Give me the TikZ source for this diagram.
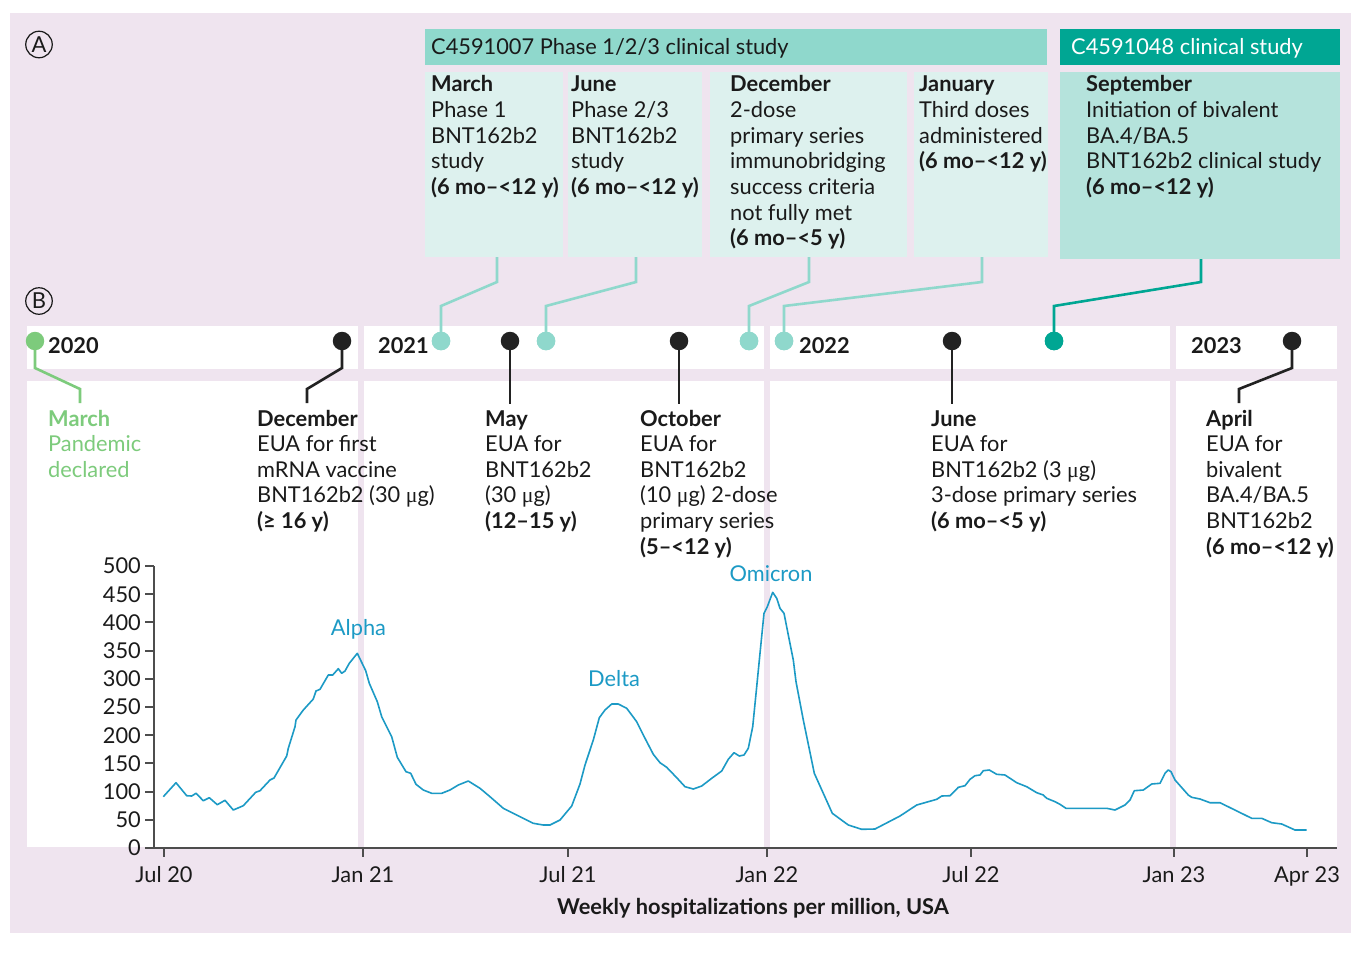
\documentclass[tikz,border=0pt]{standalone}
\usepackage{fontspec}
\setmainfont{Lato}
\newfontfamily\mufont{Liberation Serif}
\definecolor{bg}{HTML}{EFE4EF}
\definecolor{hdrA}{HTML}{8FD8CC}
\definecolor{boxA}{HTML}{DDF1EE}
\definecolor{hdrB}{HTML}{00A693}
\definecolor{boxB}{HTML}{B5E3DC}
\definecolor{ltteal}{HTML}{8FD8CC}
\definecolor{dkteal}{HTML}{00A693}
\definecolor{grn}{HTML}{7DCB7C}
\definecolor{dark}{HTML}{222222}
\definecolor{ink}{HTML}{1A1A1A}
\definecolor{crv}{HTML}{1C9AC5}
\definecolor{axc}{HTML}{4D4D4D}
\newcommand{\mug}{{\mufont μ}g}
\newcommand{\mylines}[1]{\begin{tabular}[t]{@{}l@{}}#1\end{tabular}}
\begin{document}
\begin{tikzpicture}[x=1pt,y=-1pt,
  tx/.style={font=\fontsize{21.8}{25.6}\selectfont, anchor=base west, inner sep=0pt, text=ink},
  boxnode/.style={rectangle, anchor=north west, inner sep=0pt, draw=none},
  tdot/.style={circle, inner sep=0pt, minimum size=18.5pt},
  conn/.style={line width=2.6pt, line join=miter},
  axisline/.style={draw=axc, line width=2pt},
  lab/.style={font=\fontsize{21.8}{25}\selectfont, inner sep=0pt, text=ink},
  wave/.style={text=crv, font=\fontsize{21.8}{25}\selectfont, anchor=base, inner sep=0pt},
  circlab/.style={circle, draw=ink, line width=1.2pt, minimum size=26.5pt, inner sep=0pt, font=\fontsize{22}{22}\selectfont, text=ink}
]
\useasboundingbox (0,0) rectangle (1351,958);
% background
\fill[bg] (10,13) rectangle (1351,933);
% timeline bars
\fill[white] (27,326) rectangle (358,369);
\fill[white] (364,326) rectangle (764,369);
\fill[white] (770,326) rectangle (1170,369);
\fill[white] (1176,326) rectangle (1337,369);
\fill[white] (27,381) rectangle (358,847);
\fill[white] (364,381) rectangle (764,847);
\fill[white] (770,381) rectangle (1170,847);
\fill[white] (1176,381) rectangle (1337,847);

% circled labels
\node[circlab] (lA) at (39,44.5) {A};
\node[circlab] (lB) at (39,301) {B};

% Panel A headers
\node[boxnode, fill=hdrA, minimum width=622pt, minimum height=36pt] (hA) at (425,29) {};
\node[boxnode, fill=hdrB, minimum width=280pt, minimum height=36pt] (hB) at (1060,29) {};
\node[tx] (hAt) at (431,55) {C4591007 Phase 1/2/3 clinical study};
\node[tx, text=white] (hBt) at (1071,55) {C4591048 clinical study};

% Panel A boxes
\node[boxnode, fill=boxA, minimum width=138pt, minimum height=185pt] (bMar) at (425,72) {};
\node[boxnode, fill=boxA, minimum width=134pt, minimum height=185pt] (bJun) at (568,72) {};
\node[boxnode, fill=boxA, minimum width=197pt, minimum height=185pt] (bDec) at (710,72) {};
\node[boxnode, fill=boxA, minimum width=134pt, minimum height=185pt] (bJan) at (914,72) {};
\node[boxnode, fill=boxB, minimum width=280pt, minimum height=187pt] (bSep) at (1060,72) {};

\node[tx] (tMar) at (431,92) {\mylines{\textbf{March}\\Phase 1\\BNT162b2\\study\\\textbf{(6 mo–<12 y)}}};
\node[tx] (tJun) at (571,92) {\mylines{\textbf{June}\\Phase 2/3\\BNT162b2\\study\\\textbf{(6 mo–<12 y)}}};
\node[tx] (tDec) at (730,92) {\mylines{\textbf{December}\\2-dose\\primary series\\immunobridging\\success criteria\\not fully met\\\textbf{(6 mo–<5 y)}}};
\node[tx] (tJan) at (919,92) {\mylines{\textbf{January}\\Third doses\\administered\\\textbf{(6 mo–<12 y)}}};
\node[tx] (tSep) at (1086,92) {\mylines{\textbf{September}\\Initiation of bivalent\\BA.4/BA.5\\BNT162b2 clinical study\\\textbf{(6 mo–<12 y)}}};

% connectors from panel A
\coordinate (cMar) at (497,257);
\coordinate (cJun) at (636,257);
\coordinate (cDec) at (809,257);
\coordinate (cJan) at (982,257);
\coordinate (cSep) at (1201,259);
\node[tdot, fill=ltteal] (dMar) at (441,341) {};
\node[tdot, fill=ltteal] (dJun) at (546,341) {};
\node[tdot, fill=ltteal] (dDec) at (749,341) {};
\node[tdot, fill=ltteal] (dJan) at (784,341) {};
\node[tdot, fill=dkteal] (dSep) at (1054,341) {};
\draw[conn, ltteal] (cMar) -- (497,282) -- ([yshift=35pt]dMar.center) -- (dMar.center);
\draw[conn, ltteal] (cJun) -- (636,282) -- ([yshift=35pt]dJun.center) -- (dJun.center);
\draw[conn, ltteal] (cDec) -- (809,282) -- ([yshift=35pt]dDec.center) -- (dDec.center);
\draw[conn, ltteal] (cJan) -- (982,282) -- ([yshift=35pt]dJan.center) -- (dJan.center);
\draw[conn, dkteal] (cSep) -- (1201,282) -- ([yshift=35pt]dSep.center) -- (dSep.center);
\node[tdot, fill=ltteal] at (dMar) {};
\node[tdot, fill=ltteal] at (dJun) {};
\node[tdot, fill=ltteal] at (dDec) {};
\node[tdot, fill=ltteal] at (dJan) {};
\node[tdot, fill=dkteal] at (dSep) {};

% year labels
\node[tx, font=\fontsize{21.8}{25.6}\selectfont\bfseries] (y20) at (48,353.5) {2020};
\node[tx, font=\fontsize{21.8}{25.6}\selectfont\bfseries] (y21) at (378,353.5) {2021};
\node[tx, font=\fontsize{21.8}{25.6}\selectfont\bfseries] (y22) at (799,353.5) {2022};
\node[tx, font=\fontsize{21.8}{25.6}\selectfont\bfseries] (y23) at (1191,353.5) {2023};

% panel B events
\coordinate (ePan) at (80,403);
\coordinate (eDec) at (307,403);
\coordinate (eMay) at (510,404);
\coordinate (eOct) at (679,404);
\coordinate (eJun) at (952,404);
\coordinate (eApr) at (1239,403);
\draw[conn, grn] (35,341) -- (35,368) -- (80,389) -- (ePan);
\draw[conn, dark] (342,341) -- (342,368) -- (307,389) -- (eDec);
\draw[conn, dark] (510,341) -- (eMay);
\draw[conn, dark] (679,341) -- (eOct);
\draw[conn, dark] (952,341) -- (eJun);
\draw[conn, dark] (1292,341) -- (1292,368) -- (1239,389) -- (eApr);
\node[tdot, fill=grn] (dPan) at (35,341) {};
\node[tdot, fill=dark] (dDe) at (342,341) {};
\node[tdot, fill=dark] (dMa) at (510,341) {};
\node[tdot, fill=dark] (dOc) at (679,341) {};
\node[tdot, fill=dark] (dJu) at (952,341) {};
\node[tdot, fill=dark] (dAp) at (1292,341) {};

\node[tx, text=grn] (lPan) at (48,426) {\mylines{\textbf{March}\\Pandemic\\declared}};
\node[tx] (lDec) at (257,426) {\mylines{\textbf{December}\\EUA for first\\mRNA vaccine\\BNT162b2 (30 \mug)\\\textbf{(≥ 16 y)}}};
\node[tx] (lMay) at (485,426) {\mylines{\textbf{May}\\EUA for\\BNT162b2\\(30 \mug)\\\textbf{(12–15 y)}}};
\node[tx] (lOct) at (640,426) {\mylines{\textbf{October}\\EUA for\\BNT162b2\\(10 \mug) 2-dose\\primary series\\\textbf{(5–<12 y)}}};
\node[tx] (lJun) at (931,426) {\mylines{\textbf{June}\\EUA for\\BNT162b2 (3 \mug)\\3-dose primary series\\\textbf{(6 mo–<5 y)}}};
\node[tx] (lApr) at (1206,426) {\mylines{\textbf{April}\\EUA for\\bivalent\\BA.4/BA.5\\BNT162b2\\\textbf{(6 mo–<12 y)}}};

% chart axes
\draw[axisline] (154,566) -- (154,848);
\draw[axisline] (145,848) -- (1337,848);
\foreach \v in {0,50,...,500} {
  \pgfmathsetmacro\yy{848-0.564*\v}
  \draw[axisline] (145,\yy) -- (154,\yy);
  \node[lab, anchor=east] (yl\v) at (141,\yy) {\v};
}
\foreach \xx/\lab/\nm in {164/Jul 20/a, 363/Jan 21/b, 568/Jul 21/c, 767/Jan 22/d, 971/Jul 22/e, 1174/Jan 23/f, 1307/Apr 23/g} {
  \draw[axisline] (\xx,848) -- (\xx,857);
  \node[lab, anchor=base] (xl\nm) at (\xx,882) {\lab};
}
\node[lab, font=\fontsize{21.8}{25}\selectfont\bfseries, anchor=base] (xtitle) at (753,914) {Weekly hospitalizations per million, USA};

% curve
\draw[crv, line width=1.6pt, line join=round] plot coordinates {
(163.3,796.7) (176,782.7) (186.7,795.7) (191.7,796) (196,793.3) (203.3,800.7) (209.3,797.7) (217.3,804.7) (225,800.3) (233.3,810) (243.3,805.7) (255.7,792.3) (260,790.7) (270,780) (274,778) (286.7,756) (288.3,748.3) (295,726.7) (296,720) (303.3,710) (313.3,699) (316,691) (320,689.3) (328.3,675) (332.7,675) (338.3,668.7) (341.7,673.3) (345,671) (349.3,663.3) (357.3,653.3) (365.7,670.7) (369.3,683.3) (377.3,701.7) (381.7,716.7) (391.7,736.7) (397.3,757.3) (406,771.7) (410.7,773.3) (416,784.3) (423.3,790) (431.7,793.3) (441.7,793.3) (450,790) (458.3,785) (468.3,781) (480,788.3) (490,796.7) (503.3,808.3) (520,816.7) (533.3,823.3) (543.3,825) (550,825) (560,820) (571.7,806) (580,784) (585,765) (593.3,740) (599.3,717.7) (605,710) (611.7,704) (618.3,704) (626.7,708.3) (636.7,721.7) (645,738.3) (653.3,754.3) (660,762.7) (666.7,767.3) (676.7,777.7) (685,786.7) (693.3,789) (701.7,786) (711.7,778.3) (721.7,771) (728.3,759.3) (734,752.7) (739.3,756) (744,755) (748.3,748.3) (752.7,726.7) (756.7,686.7) (760,653.3) (764,613.3) (767.3,606.7) (772.7,592.3) (776.7,598.3) (780,608.3) (784,613.3) (788.3,635) (793.3,660) (796,681.7) (803.3,720) (814.3,773.3) (823.3,793.3) (832.3,813.3) (848.3,825) (861.7,829.3) (875,829) (900,816) (916.7,805) (936.7,799.3) (941.7,796) (950,795.7) (958.3,787.3) (965,785.7) (970,779.3) (975,775.7) (980,775) (983.3,770.7) (989.3,770) (996.7,774.3) (1005,775) (1016.7,782.7) (1026.7,786.7) (1036.7,792.7) (1043.3,795) (1046.7,798.3) (1055,801.7) (1060,804.3) (1066,808.3) (1086.7,808.3) (1106.7,808.3) (1115,810) (1125,805) (1130,800) (1134.3,790.7) (1143.3,790) (1151.7,784) (1160,783.3) (1165,773.3) (1168.3,770) (1171,771.7) (1175,780) (1188.3,795) (1191.7,797.3) (1200,799) (1210,802.7) (1220,802.7) (1251.7,818.3) (1261.7,818.3) (1271.7,822.7) (1281.7,824) (1295,830) (1306.7,830)
};
\node[wave] (wAlpha) at (358.5,635) {Alpha};
\node[wave] (wDelta) at (614,686.7) {Delta};
\node[wave] (wOmi) at (771,581.7) {Omicron};
\end{tikzpicture}
\end{document}
